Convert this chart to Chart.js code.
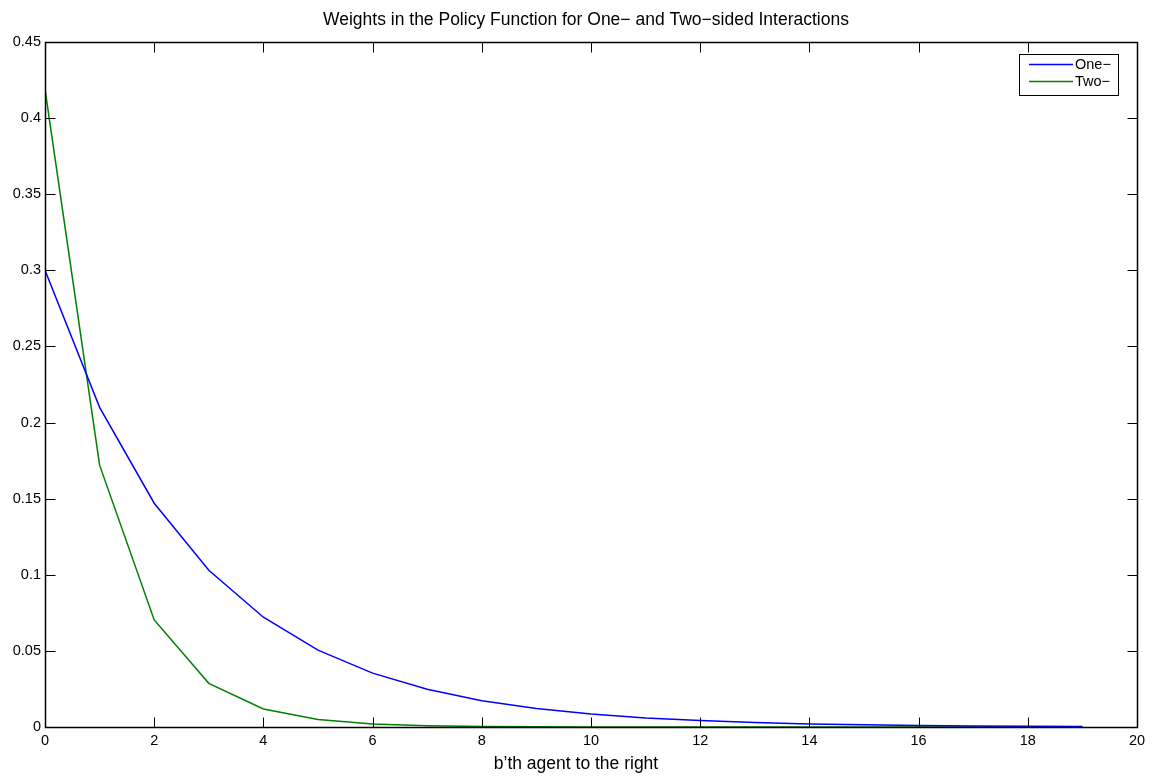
<!DOCTYPE html>
<html><head><meta charset="utf-8">
<script src="https://cdn.jsdelivr.net/npm/chart.js@4.4.0/dist/chart.umd.min.js"></script>
<style>html,body{margin:0;padding:0;background:#fff;}#wrap{width:1160px;height:778px;position:relative;}</style>
</head><body><div id="wrap"><canvas id="c" width="1160" height="778"></canvas></div>
<script>
const xValues = [0,1,2,3,4,5,6,7,8,9,10,11,12,13,14,15,16,17,18,19];
const oneSided = [0.300,0.210,0.147,0.103,0.0721,0.0505,0.0354,0.0248,0.0173,0.0121,0.0085,0.0059,0.0042,0.0029,0.0020,0.0014,0.0010,0.0007,0.0005,0.0003];
const twoSided = [0.419,0.172,0.0703,0.0287,0.0118,0.0049,0.0020,0.0008,0.0003,0.0001,0.00005,0.00002,0.00001,0,0,0,0,0,0,0];
const xTickValues = [0,2,4,6,8,10,12,14,16,18,20];
const yTickValues = [0,0.05,0.1,0.15,0.2,0.25,0.3,0.35,0.4,0.45];
const yTickLabels = ['0','0.05','0.1','0.15','0.2','0.25','0.3','0.35','0.4','0.45'];
const seriesNames = ['One\u2212','Two\u2212'];
const chartTitle = 'Weights in the Policy Function for One\u2212 and Two\u2212sided Interactions';
const xAxisLabel = 'b\u2019th agent to the right';

const FONT = '"Liberation Sans", Arial, Helvetica, sans-serif';

const matlabAxes = {
  id: 'matlabAxes',
  afterDatasetsDraw(chart) {
    const ctx = chart.ctx, a = chart.chartArea;
    const xs = chart.scales.x, ys = chart.scales.y;
    ctx.save();
    ctx.strokeStyle = '#000';
    ctx.lineWidth = 1;
    const L = Math.round(a.left) + 0.5, R = Math.round(a.right) + 0.5;
    const T = Math.round(a.top) + 0.5, B = Math.round(a.bottom) + 0.5;
    ctx.beginPath();
    xTickValues.forEach(v => {
      const px = Math.round(xs.getPixelForValue(v)) + 0.5;
      ctx.moveTo(px, B); ctx.lineTo(px, B - 10);
      ctx.moveTo(px, T); ctx.lineTo(px, T + 10);
    });
    yTickValues.forEach(v => {
      const py = Math.round(ys.getPixelForValue(v)) + 0.5;
      ctx.moveTo(L, py); ctx.lineTo(L + 10, py);
      ctx.moveTo(R, py); ctx.lineTo(R - 10, py);
    });
    ctx.stroke();
    ctx.lineWidth = 1.5;
    ctx.strokeRect(L, T, R - L, B - T);

    // title and x label
    ctx.fillStyle = '#000';
    ctx.font = '17.5px ' + FONT;
    ctx.textAlign = 'center';
    ctx.textBaseline = 'alphabetic';
    ctx.fillText(chartTitle, 586, 25);
    ctx.fillText(xAxisLabel, 576, 769);

    // legend
    const bx = 1019.5, by = 54.5, bw = 99, bh = 41;
    ctx.fillStyle = '#fff';
    ctx.fillRect(bx, by, bw, bh);
    ctx.lineWidth = 1;
    ctx.strokeStyle = '#000';
    ctx.strokeRect(bx, by, bw, bh);
    ctx.font = '14.5px ' + FONT;
    ctx.textAlign = 'left';
    ctx.textBaseline = 'middle';
    chart.data.datasets.forEach((ds, i) => {
      const y = 64.5 + i * 17;
      ctx.strokeStyle = ds.borderColor;
      ctx.lineWidth = 1.5;
      ctx.beginPath(); ctx.moveTo(1029, y); ctx.lineTo(1073, y); ctx.stroke();
      ctx.fillStyle = '#000';
      ctx.fillText(ds.label, 1075, y + 0.5);
    });
    ctx.restore();
  }
};

new Chart(document.getElementById('c'), {
  type: 'line',
  data: {
    datasets: [
      { label: seriesNames[0], data: xValues.map((x, i) => ({x, y: oneSided[i]})), borderColor: '#0000ff', borderWidth: 1.5, pointRadius: 0, fill: false, tension: 0 },
      { label: seriesNames[1], data: xValues.map((x, i) => ({x, y: twoSided[i]})), borderColor: '#008000', borderWidth: 1.5, pointRadius: 0, fill: false, tension: 0 }
    ]
  },
  options: {
    responsive: false,
    animation: false,
    devicePixelRatio: 1,
    layout: { padding: { top: 42, right: 23, left: 0, bottom: 0 } },
    plugins: { legend: { display: false }, title: { display: false }, tooltip: { enabled: false } },
    scales: {
      x: {
        type: 'linear', min: 0, max: 20,
        afterBuildTicks: s => { s.ticks = xTickValues.map(v => ({ value: v })); },
        ticks: { color: '#000', font: { family: FONT, size: 14.5 }, padding: 5, maxRotation: 0, autoSkip: false },
        grid: { display: false, drawTicks: false, tickLength: 0 },
        border: { display: false },
        afterFit: s => { s.height = 51; }
      },
      y: {
        type: 'linear', min: 0, max: 0.45,
        afterBuildTicks: s => { s.ticks = yTickValues.map(v => ({ value: v })); },
        ticks: { color: '#000', font: { family: FONT, size: 14.5 }, padding: 4, autoSkip: false,
          callback: (v, i) => yTickLabels[i] },
        grid: { display: false, drawTicks: false, tickLength: 0 },
        border: { display: false },
        afterFit: s => { s.width = 45; }
      }
    }
  },
  plugins: [matlabAxes]
});
</script></body></html>
